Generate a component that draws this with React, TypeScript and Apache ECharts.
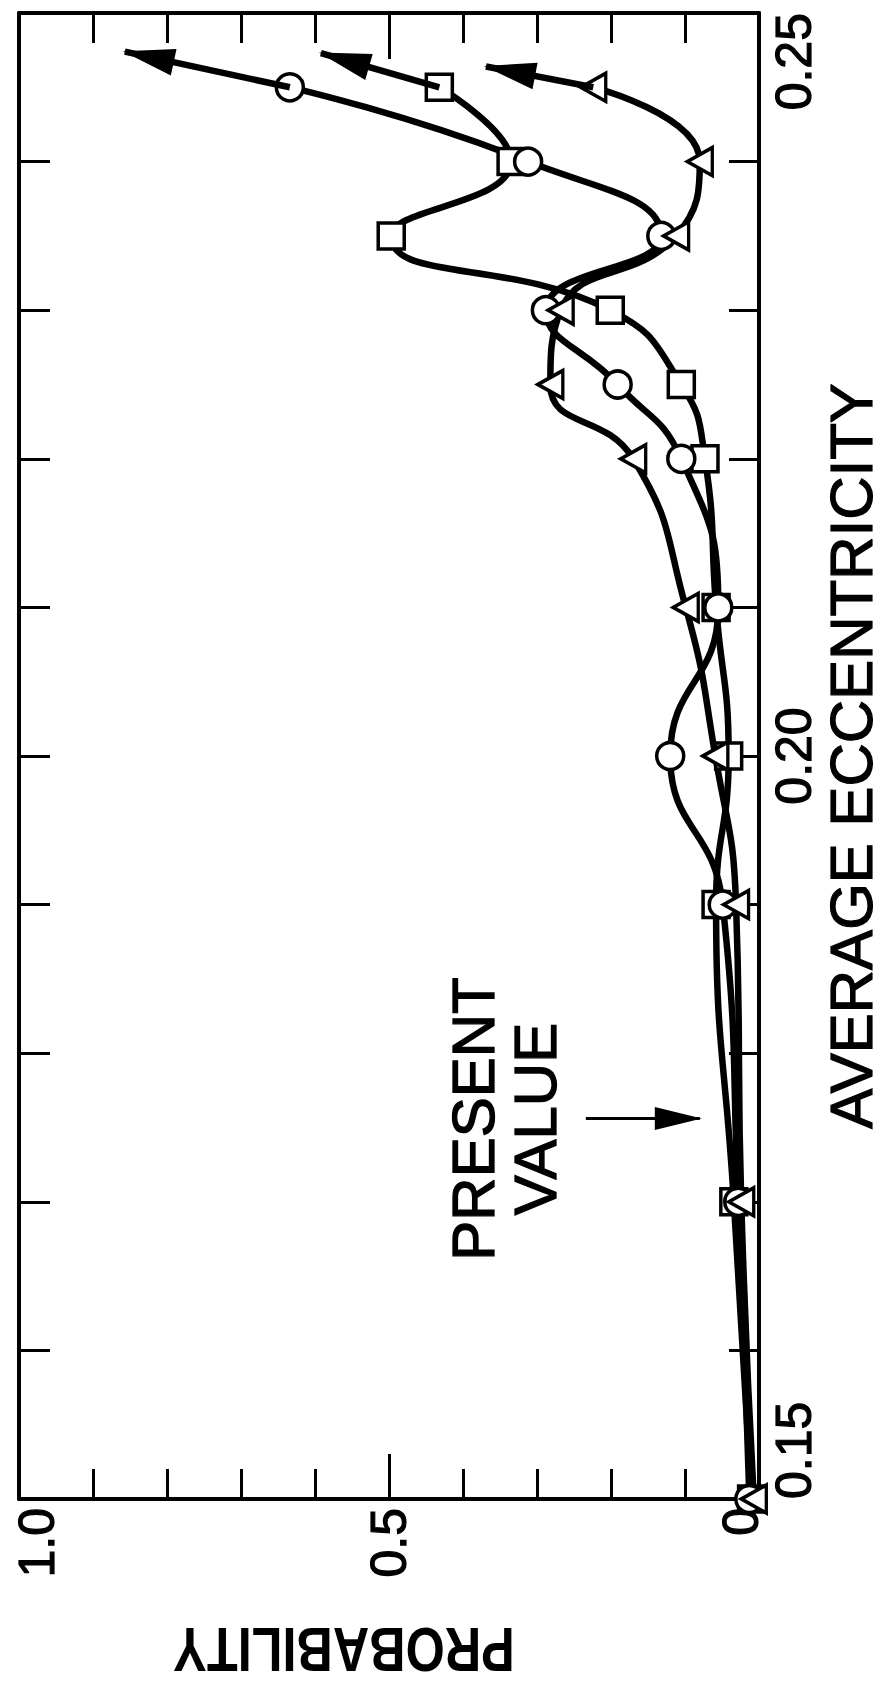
import React, { useEffect, useRef } from 'react';
import * as echarts from 'echarts';

// Eccentricity values of the plotted points
const ECCENTRICITY = [0.15, 0.17, 0.19, 0.20, 0.21, 0.22, 0.225, 0.23, 0.235, 0.24, 0.245];
// Probability values for each series
const CIRCLE_PROB = [0.013, 0.028, 0.049, 0.120, 0.055, 0.105, 0.191, 0.288, 0.132, 0.312, 0.634];
const SQUARE_PROB = [0.010, 0.034, 0.058, 0.041, 0.058, 0.073, 0.105, 0.201, 0.497, 0.335, 0.432];
const TRIANGLE_PROB = [0.007, 0.024, 0.031, 0.059, 0.099, 0.170, 0.282, 0.268, 0.112, 0.080, 0.224];
// Arrow tips continuing each series beyond the last point: [probability, eccentricity]
const CIRCLE_ARROW_TIP = [0.857, 0.2474];
const SQUARE_ARROW_TIP = [0.592, 0.2473];
const TRIANGLE_ARROW_TIP = [0.369, 0.2464];
// "Present value" annotation arrow: from / to (probability), at eccentricity
const PRESENT_ECC = 0.1756;
const PRESENT_FROM_PROB = 0.234;
const PRESENT_TO_PROB = 0.080;

const X_LABELS: Record<number, string> = { 0: '0', 5: '0.5', 10: '1.0' };
const Y_LABELS: Record<number, string> = { 15: '0.15', 20: '0.20', 25: '0.25' };

const FONT = '"Liberation Sans", Arial, Helvetica, sans-serif';

function pairs(prob: number[]) {
  return ECCENTRICITY.map((e, i) => [prob[i], e]);
}

function arrowMarkLine(from: number[], to: number[], width: number, head: number[]) {
  return {
    silent: true,
    symbol: ['none', 'triangle'],
    label: { show: false },
    emphasis: { disabled: true },
    itemStyle: { color: '#000' },
    lineStyle: { color: '#000', width, type: 'solid', opacity: 1 },
    data: [
      [
        { coord: from, symbol: 'none', symbolSize: 1 },
        {
          coord: to,
          symbol: 'triangle',
          symbolSize: head,
          symbolOffset: [0, head[1] / 2 - 2],
          itemStyle: { color: '#000' },
        },
      ],
    ],
  };
}

function seriesArrow(prob: number[], tip: number[]) {
  const last = prob.length - 1;
  return arrowMarkLine([prob[last], ECCENTRICITY[last]], tip, 6.5, [27, 52]);
}

export default function App() {
  const ref = useRef<HTMLDivElement>(null);
  useEffect(() => {
    document.body.style.margin = '0';
    const chart = echarts.init(ref.current!, null, { renderer: 'svg' });

    const baseX = {
      type: 'value',
      min: 0,
      max: 1,
      inverse: true,
      splitLine: { show: false },
      gridIndex: 0,
    };
    const baseY = {
      type: 'value',
      min: 0.15,
      max: 0.25,
      interval: 0.01,
      splitLine: { show: false },
      gridIndex: 0,
    };
    const lineCommon = {
      type: 'line',
      smooth: 0.5,
      showSymbol: false,
      symbol: 'none',
      silent: true,
      z: 2,
      lineStyle: { color: '#000', width: 6.5 },
    };
    const markerCommon = {
      type: 'scatter',
      silent: true,
      z: 4,
      itemStyle: { color: '#fff', borderColor: '#000', borderWidth: 3.5, opacity: 1 },
    };
    const frameLine = { show: true, onZero: false, lineStyle: { color: '#000', width: 4 } };
    const tickStyle = { color: '#000', width: 3 };

    const option: any = {
      animation: false,
      backgroundColor: '#fff',
      grid: {
        left: 19,
        right: 128,
        top: 13,
        bottom: 189,
        containLabel: false,
        outerBoundsMode: 'none',
      },
      xAxis: [
        {
          ...baseX,
          position: 'bottom',
          interval: 0.1,
          axisLine: frameLine,
          axisTick: { show: true, inside: true, length: 30, lineStyle: tickStyle },
          axisLabel: {
            show: true,
            rotate: 90,
            margin: 9,
            fontSize: 50,
            lineHeight: 36,
            color: '#000',
            fontFamily: FONT,
            textBorderColor: '#000',
            textBorderWidth: 1.2,
            verticalAlignMinLabel: 'bottom',
            verticalAlignMaxLabel: 'top',
            formatter: (v: number) => X_LABELS[Math.round(v * 10)] ?? '',
          },
        },
        {
          ...baseX,
          position: 'bottom',
          interval: 0.5,
          axisLine: { show: false },
          axisTick: { show: true, inside: true, length: 45, lineStyle: tickStyle },
          axisLabel: { show: false },
        },
        {
          ...baseX,
          position: 'top',
          interval: 0.1,
          axisLine: frameLine,
          axisTick: { show: true, inside: true, length: 30, lineStyle: tickStyle },
          axisLabel: { show: false },
        },
        {
          ...baseX,
          position: 'top',
          interval: 0.5,
          axisLine: { show: false },
          axisTick: { show: true, inside: true, length: 46, lineStyle: tickStyle },
          axisLabel: { show: false },
        },
      ],
      yAxis: [
        {
          ...baseY,
          position: 'right',
          axisLine: frameLine,
          axisTick: { show: true, inside: true, length: 30, lineStyle: tickStyle },
          axisLabel: {
            show: true,
            rotate: 90,
            margin: 10,
            fontSize: 50,
            color: '#000',
            fontFamily: FONT,
            textBorderColor: '#000',
            textBorderWidth: 1.2,
            alignMinLabel: 'left',
            alignMaxLabel: 'right',
            formatter: (v: number) => Y_LABELS[Math.round(v * 100)] ?? '',
          },
          name: 'AVERAGE ECCENTRICITY',
          nameLocation: 'middle',
          nameRotate: 90,
          nameGap: 62,
          nameMoveOverlap: false,
          nameTextStyle: {
            fontSize: 60,
            color: '#000',
            fontFamily: FONT,
            textBorderColor: '#000',
            textBorderWidth: 1.2,
          },
        },
        {
          ...baseY,
          position: 'left',
          axisLine: frameLine,
          axisTick: { show: true, inside: true, length: 31, lineStyle: tickStyle },
          axisLabel: { show: false },
        },
      ],
      series: [
        { ...lineCommon, name: 'square-line', data: pairs(SQUARE_PROB), markLine: seriesArrow(SQUARE_PROB, SQUARE_ARROW_TIP) },
        { ...lineCommon, name: 'circle-line', data: pairs(CIRCLE_PROB), markLine: seriesArrow(CIRCLE_PROB, CIRCLE_ARROW_TIP) },
        { ...lineCommon, name: 'triangle-line', data: pairs(TRIANGLE_PROB), markLine: seriesArrow(TRIANGLE_PROB, TRIANGLE_ARROW_TIP) },
        { ...markerCommon, name: 'square', symbol: 'rect', symbolSize: 26, data: pairs(SQUARE_PROB) },
        {
          ...markerCommon,
          name: 'circle',
          symbol: 'circle',
          symbolSize: 27,
          data: pairs(CIRCLE_PROB),
          markLine: arrowMarkLine(
            [PRESENT_FROM_PROB, PRESENT_ECC],
            [PRESENT_TO_PROB, PRESENT_ECC],
            3,
            [23, 47]
          ),
        },
        { ...markerCommon, name: 'triangle', symbol: 'triangle', symbolSize: [28, 25], symbolRotate: 90, data: pairs(TRIANGLE_PROB) },
      ],
      graphic: [
        {
          type: 'text',
          x: 504,
          y: 1119,
          rotation: Math.PI / 2,
          style: {
            text: 'PRESENT\nVALUE',
            fontSize: 60,
            lineHeight: 62,
            fontFamily: FONT,
            fill: '#000',
            stroke: '#000',
            lineWidth: 1.3,
            align: 'center',
            verticalAlign: 'middle',
          },
        },
        {
          type: 'text',
          x: 344,
          y: 1650,
          rotation: Math.PI,
          scaleX: 0.8,
          style: {
            text: 'PROBABILITY',
            fontSize: 63,
            fontWeight: 'bold',
            fontFamily: FONT,
            fill: '#000',
            align: 'center',
            verticalAlign: 'middle',
          },
        },
      ],
    };

    chart.setOption(option);
    return () => chart.dispose();
  }, []);
  return <div ref={ref} style={{ width: 887, height: 1688 }} />;
}
